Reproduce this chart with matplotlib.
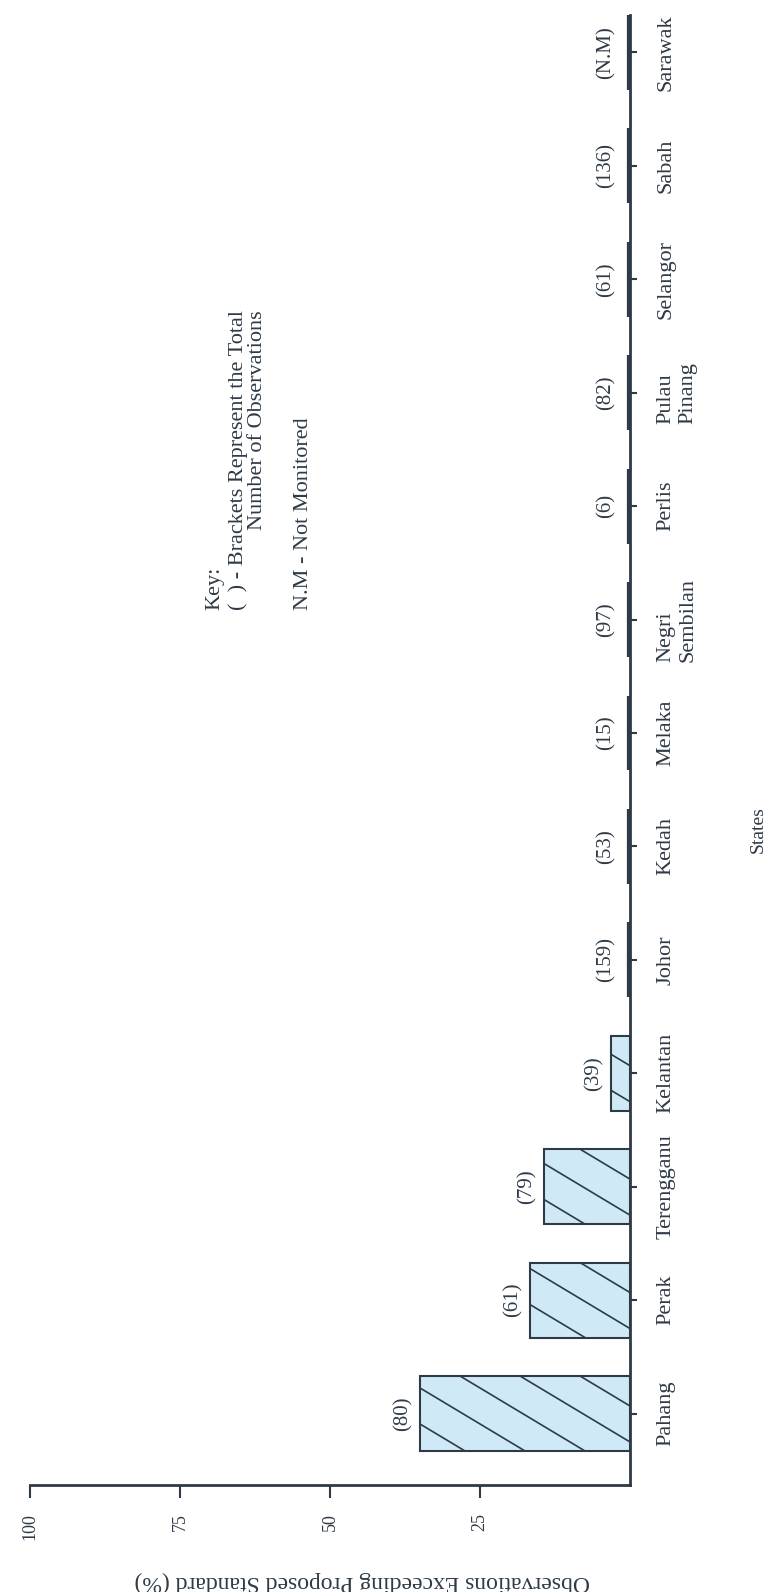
import numpy as np
import matplotlib
matplotlib.use('Agg')
import matplotlib.pyplot as plt
from matplotlib.lines import Line2D
from matplotlib.transforms import IdentityTransform

# data (bottom state first)
states = ['Pahang', 'Perak', 'Terengganu', 'Kelantan', 'Johor', 'Kedah',
          'Melaka', 'Negri\nSembilan', 'Perlis', 'Pulau\nPinang', 'Selangor',
          'Sabah', 'Sarawak']
exceed_pct = [35.0, 16.7, 14.3, 3.2, 0, 0, 0, 0, 0, 0, 0, 0, 0]
n_obs = ['(80)', '(61)', '(79)', '(39)', '(159)', '(53)', '(15)', '(97)',
         '(6)', '(82)', '(61)', '(136)', '(N.M)']
value_ticks = [25, 50, 75, 100]

ink = '#2e3a46'
fill = '#cfeaf6'

plt.rcParams['font.family'] = ['Liberation Serif', 'DejaVu Serif']

W, H = 771, 1592
fig = plt.figure(figsize=(W / 100, H / 100), dpi=100)
ax = fig.add_axes([30 / W, 107 / H, 600 / W, 1470 / H])

y = np.arange(len(states))
bars = ax.barh(y, exceed_pct, height=0.66, color=fill, edgecolor=ink,
               linewidth=1.5, zorder=2)
for b, v in zip(bars, exceed_pct):
    if v == 0:
        # zero values show as a heavy stroke on the axis
        b.set_facecolor(ink)
        b.set_linewidth(4.5)

ax.set_xlim(100, 0)
ax.set_ylim(-0.63, 12.33)

# sparse diagonal hatching, clipped to each bar
slope = 0.6
step = 60
for b, v in zip(bars, exceed_pct):
    if v <= 0:
        continue
    ext = b.get_window_extent()
    h = ext.y1 - ext.y0
    for k in range(-4, 20):
        c = ext.x1 - 45 - k * step
        if c < ext.x0 or c - h / slope > ext.x1:
            continue
        ln = Line2D([c, c - h / slope], [ext.y0, ext.y1],
                    transform=IdentityTransform(), color=ink, lw=1.2,
                    zorder=3)
        ax.add_line(ln)
        ln.set_clip_path(b)  # after add_line, which would reset it

for s in ['top', 'left']:
    ax.spines[s].set_visible(False)
for s in ['bottom', 'right']:
    ax.spines[s].set_linewidth(2)
    ax.spines[s].set_color(ink)
    ax.spines[s].set_zorder(4)

ax.yaxis.tick_right()
ax.set_yticks(y, states, rotation=90, va='center', ha='left',
              multialignment='left')
ax.tick_params(axis='y', direction='out', length=5, width=1.5, pad=14,
               labelsize=16, colors=ink)
ax.set_xticks(value_ticks)
ax.tick_params(axis='x', direction='out', length=9, width=1.5, pad=11,
               labelsize=13, labelrotation=90, colors=ink)

for yi, v, lab in zip(y, exceed_pct, n_obs):
    off = -17 if v > 0 else -24
    ax.annotate(lab, (v, yi), xytext=(off, 0), textcoords='offset pixels',
                rotation=90, ha='center', va='center', fontsize=15, color=ink)

fig.text(362 / W, 1 - 1582 / H, 'Observations Exceeding Proposed Standard (%)',
         rotation=180, ha='center', va='center', fontsize=17, color=ink)
fig.text(758 / W, 1 - 830 / H, 'States', rotation=90, ha='center',
         va='center', fontsize=14, color=ink)

# key
key_kw = dict(rotation=90, ha='center', va='bottom', fontsize=16, color=ink)
fig.text(215 / W, 1 - 610 / H, 'Key:', **key_kw)
fig.text(248 / W, 1 - 610 / H,
         '(  ) - Brackets Represent the Total\nNumber of Observations',
         multialignment='right', linespacing=1.0, **key_kw)
fig.text(303 / W, 1 - 610 / H, 'N.M - Not Monitored', **key_kw)

fig.savefig('out.png', dpi=100)
